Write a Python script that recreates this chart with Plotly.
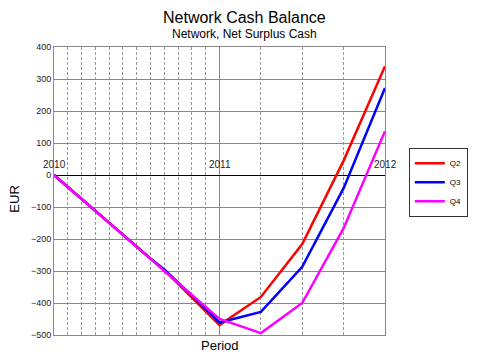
import plotly.graph_objects as go

# Period positions (fractional years): monthly in 2010, quarterly in 2011
periods = [2010 + m / 12 for m in range(13)] + [2011.25, 2011.5, 2011.75, 2012.0]

q2 = [0, -37, -75, -112, -150, -187, -225, -262, -298, -340, -383, -426, -469,
      -381, -216, 45, 340]
q3 = [0, -37, -75, -112, -150, -187, -225, -262, -295, -335, -376, -418, -461,
      -428, -287, -41, 272]
q4 = [0, -37, -75, -112, -150, -187, -225, -262, -300, -337, -375, -412, -450,
      -494, -400, -166, 137]

series = [("Q2", q2, "#ff0000"), ("Q3", q3, "#0000ff"), ("Q4", q4, "#ff00ff")]

year_ticks = [2010, 2011, 2012]
year_labels = ["2010", "2011", "2012"]
minor_grid = [2010 + m / 12 for m in range(1, 12)] + [2011.25, 2011.5, 2011.75]

title = "Network Cash Balance"
subtitle = "Network, Net Surplus Cash"

fig = go.Figure()
for name, vals, col in series:
    fig.add_trace(go.Scatter(x=periods, y=vals, name=name, mode="lines",
                             line=dict(color=col, width=2.5)))

FONT = "Liberation Sans, Arial, sans-serif"

annotations = [
    dict(text=title, xref="paper", yref="paper", x=0.577, y=1.0, yshift=30,
         showarrow=False, font=dict(size=16, color="#000", family=FONT),
         xanchor="center", yanchor="middle"),
    dict(text=subtitle, xref="paper", yref="paper", x=0.577, y=1.0, yshift=13,
         showarrow=False, font=dict(size=12, color="#000", family=FONT),
         xanchor="center", yanchor="middle"),
    dict(text="Period", xref="paper", yref="paper", x=0.5, y=0, yshift=-1,
         showarrow=False, font=dict(size=13, color="#000", family=FONT),
         xanchor="center", yanchor="top"),
    dict(text="EUR", xref="paper", yref="paper", x=0, xshift=-39, y=0.47,
         showarrow=False, textangle=-90, font=dict(size=13, color="#000", family=FONT),
         xanchor="center", yanchor="middle"),
]
for xv, lab in zip(year_ticks, year_labels):
    annotations.append(dict(text=lab, x=xv, y=0, xref="x", yref="y",
                            showarrow=False, yanchor="bottom", xanchor="center",
                            yshift=3, font=dict(size=10, color="#222", family=FONT)))

# page body has an 8px margin, so the figure is sized to fill the rest
fig.update_layout(
    width=483, height=348,
    margin=dict(l=46, r=106, t=39, b=21),
    paper_bgcolor="white", plot_bgcolor="white",
    showlegend=True,
    legend=dict(x=1.072, y=0.65, xanchor="left", yanchor="top",
                bordercolor="#333", borderwidth=1, bgcolor="white",
                font=dict(size=8, color="#000", family=FONT)),
    annotations=annotations,
    xaxis=dict(range=[2010, 2012], tickvals=year_ticks, showticklabels=False,
               showgrid=True, gridcolor="#888", gridwidth=1,
               showline=True, linecolor="#888", mirror=True, zeroline=False,
               ticks="",
               minor=dict(tickmode="array", tickvals=minor_grid, showgrid=True,
                          gridcolor="#999", griddash="3px,2px", gridwidth=1, ticks="")),
    yaxis=dict(range=[-500, 400], dtick=100, tick0=0,
               showgrid=True, gridcolor="#888", gridwidth=1,
               zeroline=True, zerolinecolor="#000", zerolinewidth=1,
               showline=True, linecolor="#888", mirror=True,
               tickfont=dict(size=9, color="#222", family=FONT), ticks=""),
)

fig.write_html("out.html")
